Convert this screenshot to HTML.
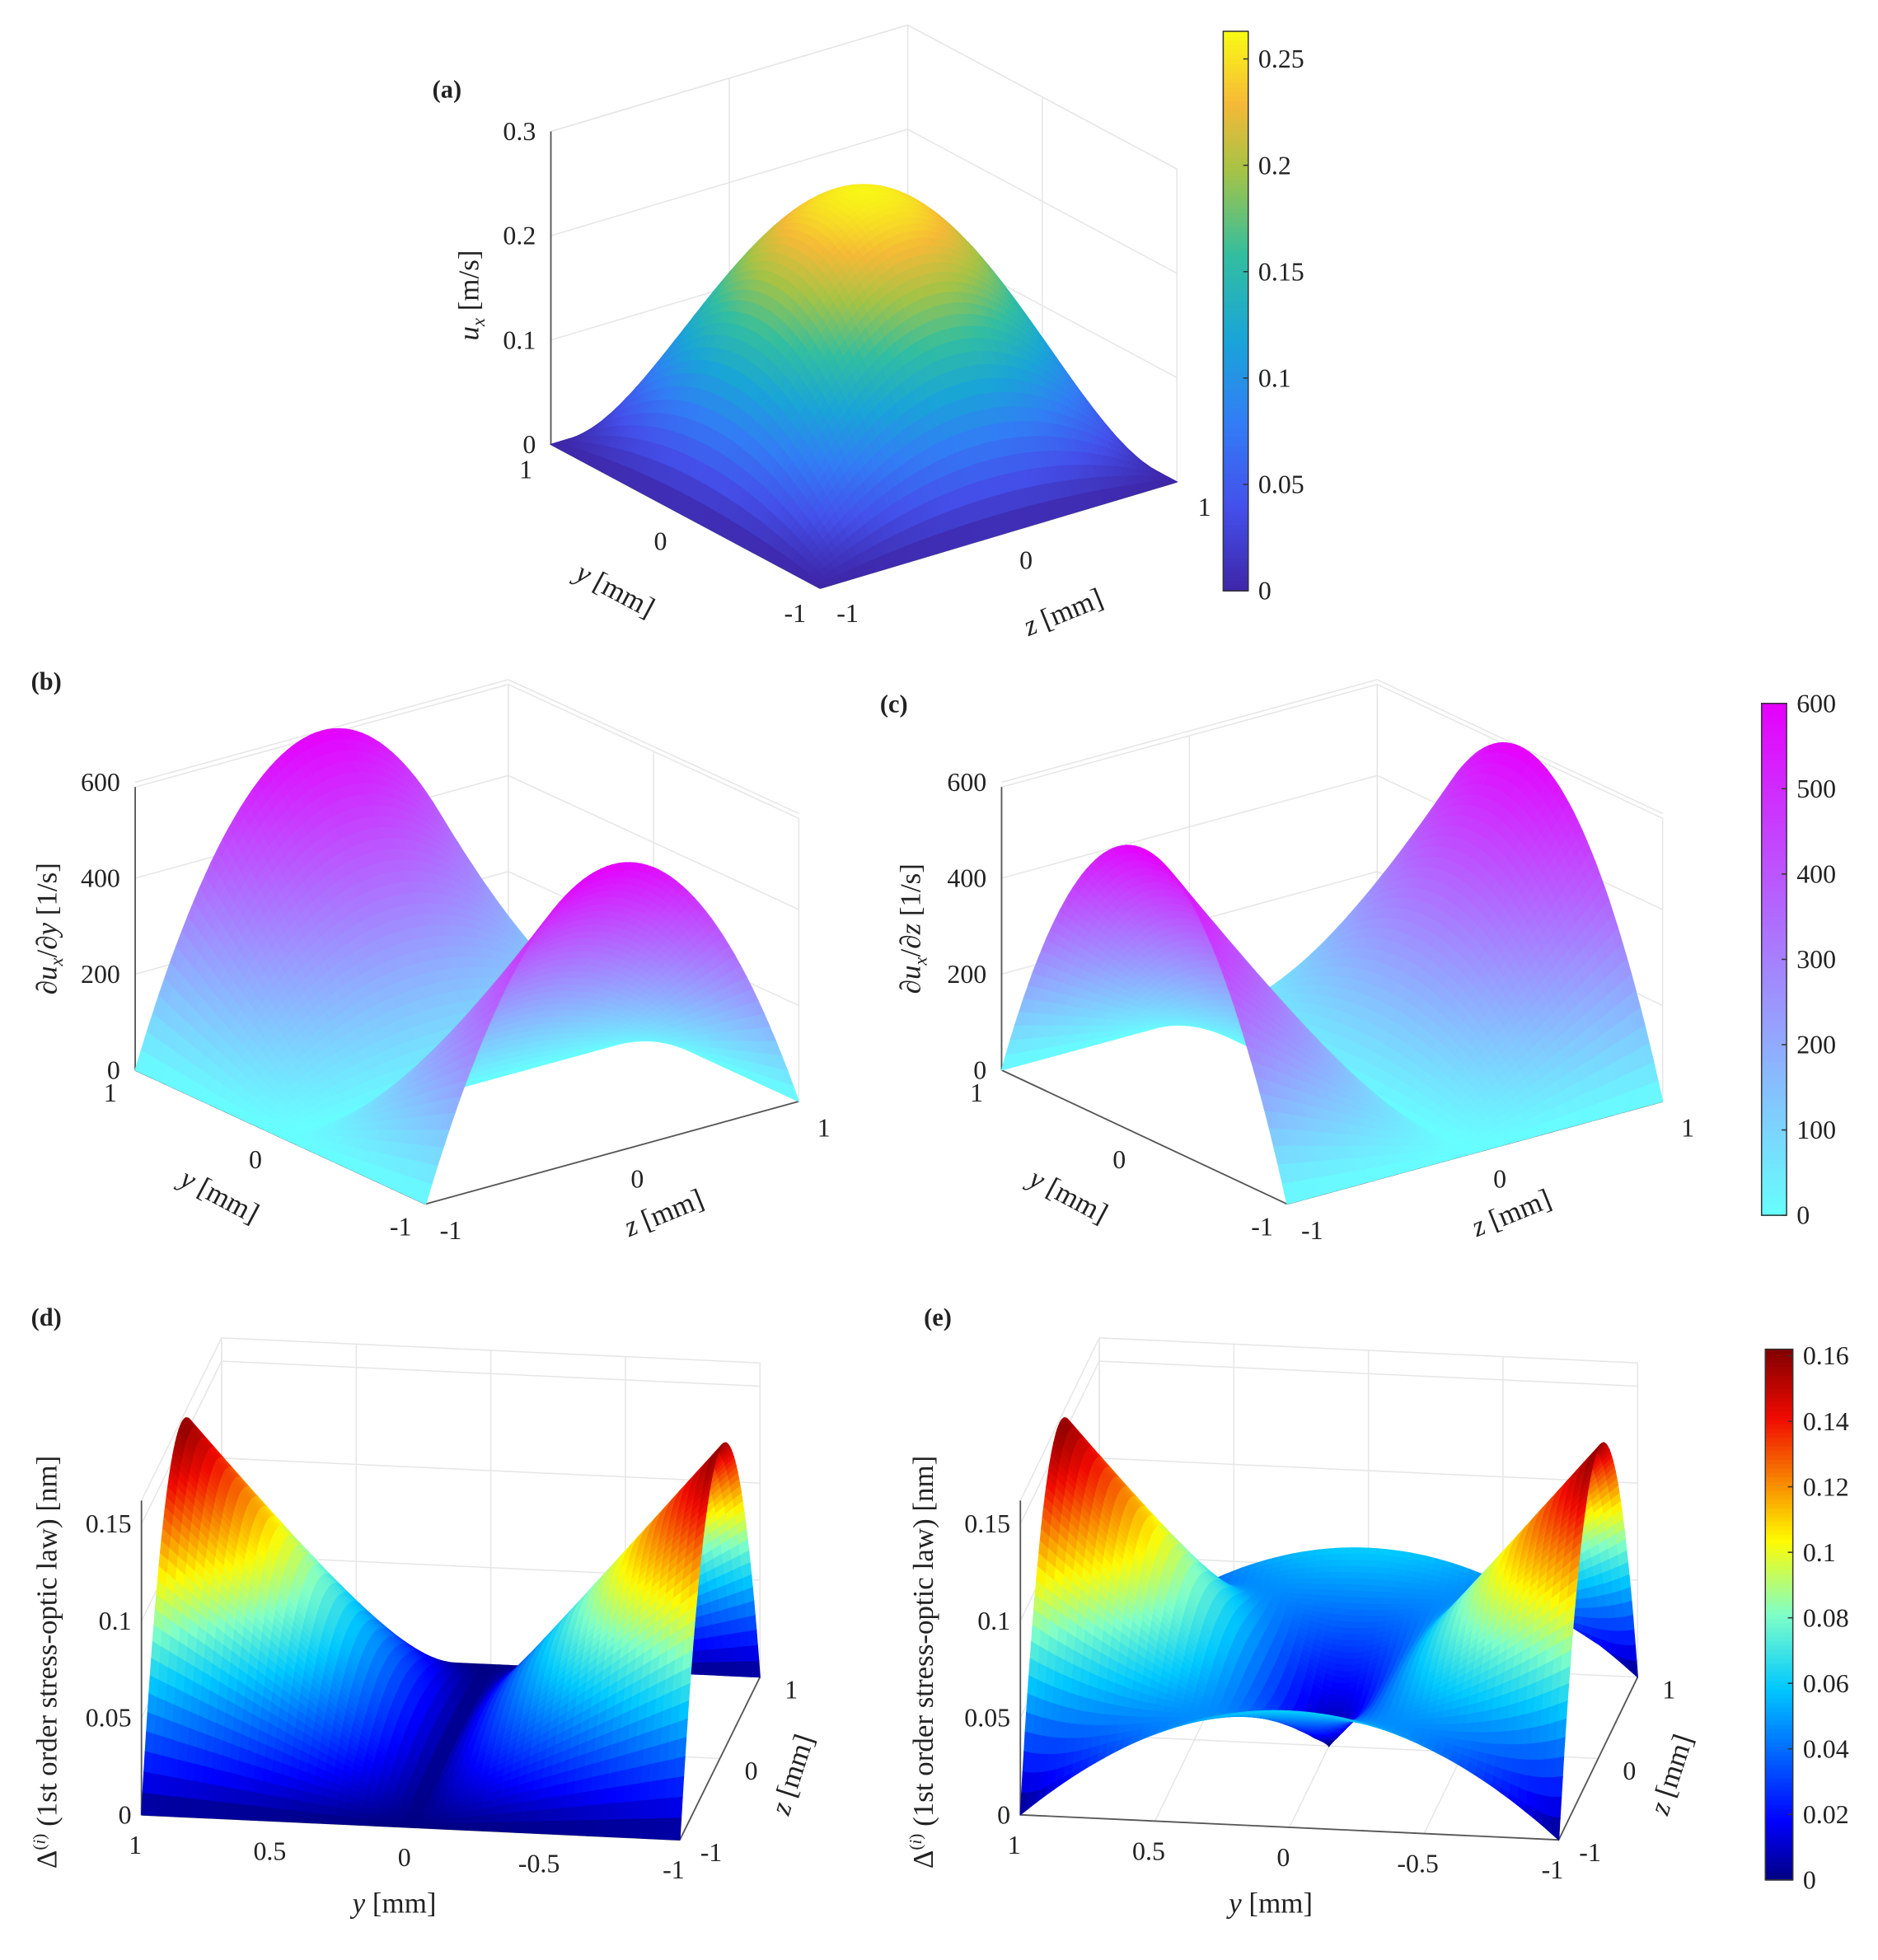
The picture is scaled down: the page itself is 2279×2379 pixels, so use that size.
<!DOCTYPE html>
<html><head><meta charset="utf-8"><style>
html,body{margin:0;padding:0;background:#fff}
svg{display:block}
text{font-family:"Liberation Serif",serif;fill:#222}
</style></head><body>
<svg id="fig" xmlns="http://www.w3.org/2000/svg" width="2279" height="2379" viewBox="0 0 1500 1566" preserveAspectRatio="none">
<rect x="0" y="0" width="1500" height="1566" fill="#fff"/>
<g id="layer"></g>
<g font-size="20">
<text x="357" y="78" font-weight="bold" text-anchor="middle">(a)</text>
<text x="37" y="551" font-weight="bold" text-anchor="middle">(b)</text>
<text x="714" y="569" font-weight="bold" text-anchor="middle">(c)</text>
<text x="37" y="1059" font-weight="bold" text-anchor="middle">(d)</text>
<text x="749" y="1059" font-weight="bold" text-anchor="middle">(e)</text>
<text transform="translate(382,236) rotate(-90)" font-size="23" text-anchor="middle"><tspan font-style="italic">u</tspan><tspan font-style="italic" font-size="15" dy="5">x</tspan><tspan dy="-5"> [m/s]</tspan></text>
<text transform="translate(488,478) rotate(28)" font-size="23" text-anchor="middle"><tspan font-style="italic">y</tspan> [mm]</text>
<text transform="translate(852,496) rotate(-22)" font-size="23" text-anchor="middle"><tspan font-style="italic">z</tspan> [mm]</text>
<text transform="translate(45,742) rotate(-90)" font-size="23" text-anchor="middle">∂<tspan font-style="italic">u</tspan><tspan font-style="italic" font-size="15" dy="5">x</tspan><tspan dy="-5">/∂</tspan><tspan font-style="italic">y</tspan> [1/s]</text>
<text transform="translate(172,962) rotate(28)" font-size="23" text-anchor="middle"><tspan font-style="italic">y</tspan> [mm]</text>
<text transform="translate(533,976) rotate(-22)" font-size="23" text-anchor="middle"><tspan font-style="italic">z</tspan> [mm]</text>
<text transform="translate(735,742) rotate(-90)" font-size="23" text-anchor="middle">∂<tspan font-style="italic">u</tspan><tspan font-style="italic" font-size="15" dy="5">x</tspan><tspan dy="-5">/∂</tspan><tspan font-style="italic">z</tspan> [1/s]</text>
<text transform="translate(850,962) rotate(28)" font-size="23" text-anchor="middle"><tspan font-style="italic">y</tspan> [mm]</text>
<text transform="translate(1210,976) rotate(-22)" font-size="23" text-anchor="middle"><tspan font-style="italic">z</tspan> [mm]</text>
<text transform="translate(45,1328) rotate(-90)" font-size="23" text-anchor="middle">Δ<tspan font-size="14" dy="-9">(<tspan font-style="italic">i</tspan>)</tspan><tspan dy="9"> (1st order stress-optic law) [nm]</tspan></text>
<text x="315" y="1528" font-size="23" text-anchor="middle"><tspan font-style="italic">y</tspan> [mm]</text>
<text transform="translate(640,1420) rotate(-72)" font-size="23" text-anchor="middle"><tspan font-style="italic">z</tspan> [mm]</text>
<text transform="translate(745,1328) rotate(-90)" font-size="23" text-anchor="middle">Δ<tspan font-size="14" dy="-9">(<tspan font-style="italic">i</tspan>)</tspan><tspan dy="9"> (1st order stress-optic law) [nm]</tspan></text>
<text x="1015" y="1528" font-size="23" text-anchor="middle"><tspan font-style="italic">y</tspan> [mm]</text>
<text transform="translate(1342,1420) rotate(-72)" font-size="23" text-anchor="middle"><tspan font-style="italic">z</tspan> [mm]</text>
</g>
</svg>
<script>
// ---- data ----
const aHTicks=[0,0.1,0.2,0.3];
const aPeak=[0.26];
const bcHTicks=[0,200,400,600];
const bPeak=[600];
const cPeak=[600];
const deHTicks=[0,0.05,0.1,0.15];
const dPeak=[0.16];
const ePeakY=[0.16];
const ePeakZ=[0.06];
const yzTicks=[-1,0,1];
const deYTicks=[1,0.5,0,-0.5,-1];
const cbATicks=[0,0.05,0.1,0.15,0.2,0.25];
const cbBTicks=[0,100,200,300,400,500,600];
const cbDTicks=[0,0.02,0.04,0.06,0.08,0.1,0.12,0.14,0.16];

const NS='http://www.w3.org/2000/svg';
const layer=document.getElementById('layer');
function mk(tag,attrs,parent){const e=document.createElementNS(NS,tag);for(const k in attrs)e.setAttribute(k,attrs[k]);(parent||layer).appendChild(e);return e;}

function lerpMap(stops,t){t=Math.max(0,Math.min(1,t));for(let i=1;i<stops.length;i++){if(t<=stops[i][0]){const a=stops[i-1],b=stops[i],f=(t-a[0])/(b[0]-a[0]||1);return 'rgb('+[1,2,3].map(k=>Math.round(a[k]+(b[k]-a[k])*f)).join(',')+')';}}const s=stops[stops.length-1];return 'rgb('+s[1]+','+s[2]+','+s[3]+')';}
const parula=[[0,62,38,168],[0.15,68,80,235],[0.3,50,125,245],[0.45,25,165,215],[0.6,50,190,160],[0.75,165,195,70],[0.87,245,185,55],[1,249,251,20]];
const cool=[[0,102,255,255],[1,230,0,255]];
const jet=[[0,0,0,130],[0.11,0,0,255],[0.36,0,200,255],[0.5,128,255,200],[0.64,255,250,0],[0.87,240,10,0],[1,128,0,0]];

function mkProj(L,F,R,hs){return (y,z,h)=>{const u=(1-y)/2,v=(z+1)/2;return [L[0]+u*(F[0]-L[0])+v*(R[0]-F[0]),L[1]+u*(F[1]-L[1])+v*(R[1]-F[1])-h*hs];};}

function drawBox(P,hmax,hTicks,front,name){
  const g=mk('g',{});
  
  
  const ln=(a,b,c,w)=>{const l=mk('line',{x1:a[0],y1:a[1],x2:b[0],y2:b[1],stroke:c,'stroke-width':w},g);
    
    };
  const gc='#e6e6e6';
  for(const h of hTicks){ln(P(1,-1,h),P(1,1,h),gc,1);ln(P(1,1,h),P(-1,1,h),gc,1);}
  ln(P(1,-1,hmax),P(1,1,hmax),gc,1);ln(P(1,1,hmax),P(-1,1,hmax),gc,1);
  const yt=front?deYTicks:yzTicks;
  for(const t of yzTicks){ln(P(1,t,0),P(1,t,hmax),gc,1);}
  for(const t of yt){ln(P(t,1,0),P(t,1,hmax),gc,1);}
  if(front){for(const t of deYTicks){ln(P(t,-1,0),P(t,1,0),gc,1);} ln(P(1,0,0),P(-1,0,0),gc,1);}
  const ac='#555';
  ln(P(1,-1,0),P(1,-1,hmax),ac,1.2);
  ln(P(1,-1,0),P(-1,-1,0),ac,1.2);
  ln(P(-1,-1,0),P(-1,1,0),ac,1.2);
  return g;
}
function tickText(g,x,y,s,anchor,name){const t=mk('text',{x:x,y:y,'font-size':21,'text-anchor':anchor},g);t.textContent=s;
  
  }

function drawSurface(P,f,cmap,vmax,depth,name,N){
  const g=mk('g',{});
  
  
  const cells=[];
  for(let i=0;i<N;i++)for(let j=0;j<N;j++){
    const y0=1-2*i/N,y1=1-2*(i+1)/N,z0=-1+2*j/N,z1=-1+2*(j+1)/N;
    const ym=(y0+y1)/2,zm=(z0+z1)/2;
    cells.push({y0,y1,z0,z1,d:depth(ym,zm),c:f(ym,zm)});
  }
  cells.sort((a,b)=>a.d-b.d);
  for(const c of cells){
    const pts=[[c.y0,c.z0],[c.y1,c.z0],[c.y1,c.z1],[c.y0,c.z1]].map(p=>P(p[0],p[1],f(p[0],p[1])));
    const col=lerpMap(cmap,c.c/vmax);
    const q=mk('polygon',{points:pts.map(p=>p[0].toFixed(1)+','+p[1].toFixed(1)).join(' '),fill:col,stroke:col,'stroke-width':0.8},g);
    
    
  }
}
function drawColorbar(x,y0,y1,w,cmap,ticks,vmax,fmt,name){
  const g=mk('g',{});
  
  
  const n=120;
  for(let i=0;i<n;i++){const r=mk('rect',{x:x,y:y0+(y1-y0)*i/n,width:w,height:(y1-y0)/n+0.6,fill:lerpMap(cmap,1-(i+0.5)/n)},g);
    
    }
  const b=mk('rect',{x:x,y:y0,width:w,height:y1-y0,fill:'none',stroke:'#333','stroke-width':1},g);
  
  
  for(const t of ticks){const yy=y1-(y1-y0)*t/vmax;
    const l=mk('line',{x1:x+w-4,y1:yy,x2:x+w,y2:yy,stroke:'#333'},g);
    
    
    tickText(g,x+w+8,yy+7,fmt(t),'start','colorbar-tick-label');}
}

// ---- panel a ----
const Pa=mkProj([440,355],[655,470],[940,385],250/0.3);
const ga=drawBox(Pa,0.3,aHTicks,false,'panel-a');
aHTicks.forEach(t=>{const p=Pa(1,-1,t);tickText(ga,p[0]-12,p[1]+7,String(t),'end','a-vertical-tick-label');});
yzTicks.forEach(t=>{const p=Pa(t,-1,0);tickText(ga,p[0]-20,p[1]+27,String(t),'middle','a-y-tick-label');});
yzTicks.forEach(t=>{const p=Pa(-1,t,0);tickText(ga,p[0]+22,p[1]+27,String(t),'middle','a-z-tick-label');});
drawSurface(Pa,(y,z)=>aPeak[0]*(1-y*y)*(1-z*z),parula,0.263,(y,z)=>((1-y)/2)+(1-(z+1)/2),'panel-a',64);
drawColorbar(977,25,472,20,parula,cbATicks,0.263,t=>String(t),'colorbar-a');

// ---- panel b ----
const Pb=mkProj([108,855],[340,962],[638,880],230/600);
const gb=drawBox(Pb,590,bcHTicks,false,'panel-b');
bcHTicks.forEach(t=>{const p=Pb(1,-1,t);tickText(gb,p[0]-12,p[1]+7,String(t),'end','b-vertical-tick-label');});
yzTicks.forEach(t=>{const p=Pb(t,-1,0);tickText(gb,p[0]-20,p[1]+25,String(t),'middle','b-y-tick-label');});
yzTicks.forEach(t=>{const p=Pb(-1,t,0);tickText(gb,p[0]+20,p[1]+28,String(t),'middle','b-z-tick-label');});
drawSurface(Pb,(y,z)=>bPeak[0]*Math.abs(y)*(1-z*z),cool,600,(y,z)=>((1-y)/2)+(1-(z+1)/2),'panel-b',64);

// ---- panel c ----
const Pc=mkProj([800,855],[1028,962],[1328,880],230/600);
const gc2=drawBox(Pc,590,bcHTicks,false,'panel-c');
bcHTicks.forEach(t=>{const p=Pc(1,-1,t);tickText(gc2,p[0]-12,p[1]+7,String(t),'end','c-vertical-tick-label');});
yzTicks.forEach(t=>{const p=Pc(t,-1,0);tickText(gc2,p[0]-20,p[1]+25,String(t),'middle','c-y-tick-label');});
yzTicks.forEach(t=>{const p=Pc(-1,t,0);tickText(gc2,p[0]+20,p[1]+28,String(t),'middle','c-z-tick-label');});
drawSurface(Pc,(y,z)=>cPeak[0]*Math.abs(z)*(1-y*y),cool,600,(y,z)=>((1-y)/2)+(1-(z+1)/2),'panel-c',64);
drawColorbar(1407,562,971,20,cool,cbBTicks,600,t=>String(t),'colorbar-bc');

// ---- panel d ----
const Pd=mkProj([113,1450],[543,1470],[607,1340],1550);
const gd=drawBox(Pd,0.162,deHTicks,true,'panel-d');
deHTicks.forEach(t=>{const p=Pd(1,-1,t);tickText(gd,p[0]-8,p[1]+7,String(t),'end','d-vertical-tick-label');});
deYTicks.forEach(t=>{const p=Pd(t,-1,0);tickText(gd,p[0]-5,p[1]+31,String(t),'middle','d-y-tick-label');});
yzTicks.forEach(t=>{const p=Pd(-1,t,0);tickText(gd,p[0]+25,p[1]+17,String(t),'middle','d-z-tick-label');});
drawSurface(Pd,(y,z)=>dPeak[0]*Math.abs(y)*(1-z*z),jet,0.162,(y,z)=>(1-(z+1)/2)+0.05*(1-y)/2,'panel-d',64);

// ---- panel e ----
const Pe=mkProj([815,1450],[1245,1470],[1308,1340],1550);
const ge=drawBox(Pe,0.162,deHTicks,true,'panel-e');
deHTicks.forEach(t=>{const p=Pe(1,-1,t);tickText(ge,p[0]-8,p[1]+7,String(t),'end','e-vertical-tick-label');});
deYTicks.forEach(t=>{const p=Pe(t,-1,0);tickText(ge,p[0]-5,p[1]+31,String(t),'middle','e-y-tick-label');});
yzTicks.forEach(t=>{const p=Pe(-1,t,0);tickText(ge,p[0]+25,p[1]+17,String(t),'middle','e-z-tick-label');});
drawSurface(Pe,(y,z)=>Math.hypot(ePeakY[0]*y*(1-z*z),ePeakZ[0]*z*(1-y*y)),jet,0.162,(y,z)=>(1-(z+1)/2)+0.05*(1-y)/2,'panel-e',64);
drawColorbar(1410,1078,1502,22,jet,cbDTicks,0.162,t=>String(t),'colorbar-de');
</script>
</body></html>
